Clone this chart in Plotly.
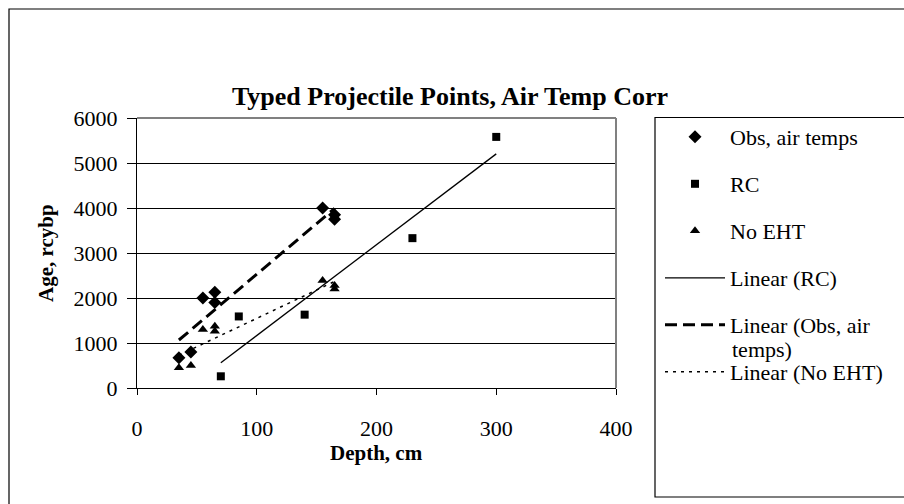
import numpy as np
import plotly.graph_objects as go

# ---- data ----
obs_depth = [35, 45, 55, 65, 65, 155, 165, 165]
obs_age = [670, 800, 2000, 2130, 1900, 4000, 3850, 3750]

rc_depth = [70, 85, 140, 230, 300]
rc_age = [260, 1590, 1630, 3330, 5580]

noeht_depth = [35, 45, 55, 65, 65, 155, 165, 165]
noeht_age = [450, 500, 1300, 1370, 1260, 2390, 2280, 2200]

x_ticks = [0, 100, 200, 300, 400]
y_ticks = [0, 1000, 2000, 3000, 4000, 5000, 6000]

# layout in window pixels (body margin removed by post_script)
W, H = 904, 504
PL, PR, PT, PB = 137, 616, 118, 388
L, R, T, B = PL, W - PR, PT, H - PB
PW, PH = W - L - R, H - T - B


def px(x):
    return (x - L) / PW


def py(y):
    return (H - B - y) / PH


def trend(xs, ys):
    k, b = np.polyfit(xs, ys, 1)
    xx = np.array([min(xs), max(xs)], dtype=float)
    return xx, k * xx + b


FONT = "Liberation Serif, Times New Roman, serif"

fig = go.Figure()
fig.add_trace(go.Scatter(x=obs_depth, y=obs_age, mode="markers", name="Obs, air temps",
                         marker=dict(symbol="diamond", size=10, color="black"), legendgroup="a"))
fig.add_trace(go.Scatter(x=rc_depth, y=rc_age, mode="markers", name="RC",
                         marker=dict(symbol="square", size=8, color="black"), legendgroup="b"))
fig.add_trace(go.Scatter(x=noeht_depth, y=noeht_age, mode="markers", name="No EHT",
                         marker=dict(symbol="triangle-up", size=9, color="black"), legendgroup="c"))

tx, ty = trend(rc_depth, rc_age)
fig.add_trace(go.Scatter(x=tx, y=ty, mode="lines", name="Linear (RC)",
                         line=dict(color="black", width=1.3), legendgroup="d"))
tx, ty = trend(obs_depth, obs_age)
fig.add_trace(go.Scatter(x=tx, y=ty, mode="lines", name="Linear (Obs, air",
                         line=dict(color="black", width=3, dash="12px,6px"), legendgroup="e"))
tx, ty = trend(noeht_depth, noeht_age)
fig.add_trace(go.Scatter(x=tx, y=ty, mode="lines", name="Linear (No EHT)",
                         line=dict(color="black", width=1.5, dash="3px,5px"), legendgroup="f"))

shapes = [
    # outer chart border
    dict(type="rect", xref="paper", yref="paper", x0=px(9), x1=px(915), y0=py(515), y1=py(9),
         line=dict(color="black", width=1.2), layer="below"),
    # legend box
    dict(type="rect", xref="paper", yref="paper", x0=px(655), x1=px(915), y0=py(497), y1=py(117.5),
         line=dict(color="black", width=1.2), layer="below"),
    # plot area border (top and right, gray)
    dict(type="line", xref="paper", yref="paper", x0=0, x1=1, y0=1, y1=1,
         line=dict(color="#808080", width=2)),
    dict(type="line", xref="paper", yref="paper", x0=1, x1=1, y0=0, y1=1,
         line=dict(color="#808080", width=2)),
]

annotations = [
    dict(text="<b>Depth, cm</b>", xref="paper", yref="paper", x=0.5, y=py(453),
         showarrow=False, font=dict(family=FONT, size=21, color="black"), xanchor="center", yanchor="middle"),
    dict(text="<b>Age, rcybp</b>", xref="paper", yref="paper", x=px(46), y=0.5, textangle=-90,
         showarrow=False, font=dict(family=FONT, size=21, color="black"), xanchor="center", yanchor="middle"),
    # wrapped continuation of the "Linear (Obs, air temps)" legend label
    dict(text="temps)", xref="paper", yref="paper", x=px(730), y=py(349),
         showarrow=False, font=dict(family=FONT, size=22, color="black"), xanchor="left", yanchor="middle"),
]

fig.update_layout(
    width=W, height=H,
    margin=dict(l=L, r=R, t=T, b=B, autoexpand=False),
    paper_bgcolor="white", plot_bgcolor="white",
    title=dict(text="<b>Typed Projectile Points, Air Temp Corr</b>", x=450 / W, xanchor="center",
               y=1 - 96 / H, yanchor="middle", font=dict(family=FONT, size=26, color="black")),
    font=dict(family=FONT, color="black"),
    showlegend=True,
    legend=dict(x=px(660), y=py(116), xanchor="left", yanchor="top", bgcolor="rgba(0,0,0,0)",
                borderwidth=0, font=dict(family=FONT, size=22, color="black"),
                itemwidth=60, tracegroupgap=15.4, traceorder="grouped", maxheight=400),
    shapes=shapes,
    annotations=annotations,
)
fig.update_xaxes(range=[0, 400], tickvals=x_ticks, ticktext=[str(v) for v in x_ticks],
                 showgrid=False, zeroline=False, showline=True, linecolor="black", linewidth=1.3,
                 ticks="outside", ticklen=6, tickcolor="black", ticklabelstandoff=14,
                 tickfont=dict(family=FONT, size=22, color="black"))
fig.update_yaxes(range=[0, 6000], tickvals=y_ticks, ticktext=[str(v) for v in y_ticks],
                 showgrid=True, gridcolor="black", gridwidth=1, zeroline=False,
                 showline=True, linecolor="black", linewidth=1.3,
                 ticks="outside", ticklen=9, tickcolor="black", ticklabelstandoff=5,
                 tickfont=dict(family=FONT, size=22, color="black"))

fig.write_html(
    "out.html",
    config={"displayModeBar": False},
    post_script="document.body.style.margin='0';document.body.style.overflow='hidden';",
)
